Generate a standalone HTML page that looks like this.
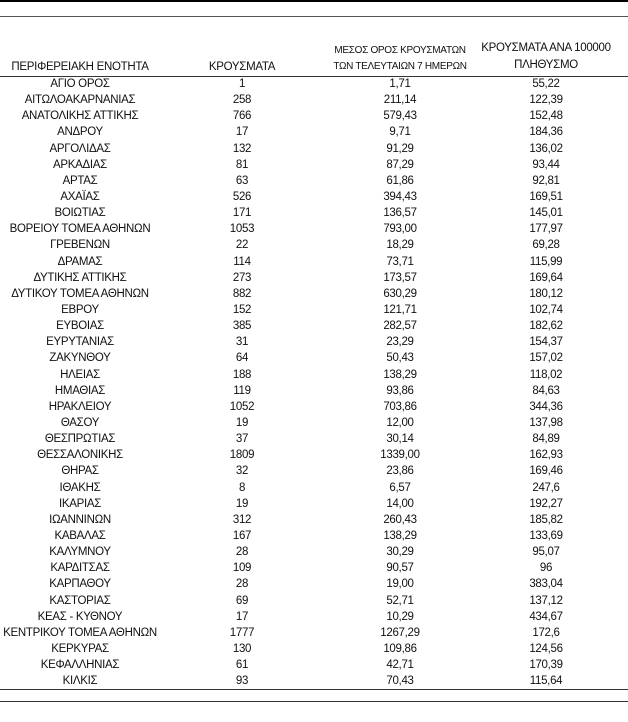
<!DOCTYPE html>
<html><head><meta charset="utf-8"><style>
body{margin:0;width:628px;height:722px;background:#fff;position:relative;overflow:hidden;font-family:"Liberation Sans","DejaVu Sans",sans-serif;font-size:11.5px;color:#111;}
.l{position:absolute;left:0;width:628px;}
.r{position:absolute;left:0;width:628px;height:16px;line-height:16px;}
.r span,.h{position:absolute;text-align:center;white-space:nowrap;letter-spacing:-0.3px;}
.c1{left:0;width:160px}.c2{left:192px;width:100px}.c3{left:320px;width:160px}.c4{left:466px;width:160px}
</style></head><body>
<div class="l" style="top:0;height:2px;background:#000"></div>
<div class="l" style="top:16px;height:1px;background:#555"></div>
<div class="h c1" style="top:61px;font-size:11.5px">ΠΕΡΙΦΕΡΕΙΑΚΗ ΕΝΟΤΗΤΑ</div>
<div class="h c2" style="top:61px">ΚΡΟΥΣΜΑΤΑ</div>
<div class="h c3" style="top:45px;font-size:10px">ΜΕΣΟΣ ΟΡΟΣ ΚΡΟΥΣΜΑΤΩΝ</div>
<div class="h c3" style="top:61px;font-size:10px">ΤΩΝ ΤΕΛΕΥΤΑΙΩΝ 7 ΗΜΕΡΩΝ</div>
<div class="h c4" style="top:42px">ΚΡΟΥΣΜΑΤΑ ΑΝΑ 100000</div>
<div class="h c4" style="top:59px">ΠΛΗΘΥΣΜΟ</div>
<div class="l" style="top:76px;height:1px;background:#333"></div>
<div id="rows"></div>
<div class="l" style="top:689px;height:1px;background:#333"></div>
<div class="l" style="top:701px;height:1px;background:#333"></div>
<script>
var d=[["ΑΓΙΟ ΟΡΟΣ","1","1,71","55,22"],["ΑΙΤΩΛΟΑΚΑΡΝΑΝΙΑΣ","258","211,14","122,39"],["ΑΝΑΤΟΛΙΚΗΣ ΑΤΤΙΚΗΣ","766","579,43","152,48"],["ΑΝΔΡΟΥ","17","9,71","184,36"],["ΑΡΓΟΛΙΔΑΣ","132","91,29","136,02"],["ΑΡΚΑΔΙΑΣ","81","87,29","93,44"],["ΑΡΤΑΣ","63","61,86","92,81"],["ΑΧΑΪΑΣ","526","394,43","169,51"],["ΒΟΙΩΤΙΑΣ","171","136,57","145,01"],["ΒΟΡΕΙΟΥ ΤΟΜΕΑ ΑΘΗΝΩΝ","1053","793,00","177,97"],["ΓΡΕΒΕΝΩΝ","22","18,29","69,28"],["ΔΡΑΜΑΣ","114","73,71","115,99"],["ΔΥΤΙΚΗΣ ΑΤΤΙΚΗΣ","273","173,57","169,64"],["ΔΥΤΙΚΟΥ ΤΟΜΕΑ ΑΘΗΝΩΝ","882","630,29","180,12"],["ΕΒΡΟΥ","152","121,71","102,74"],["ΕΥΒΟΙΑΣ","385","282,57","182,62"],["ΕΥΡΥΤΑΝΙΑΣ","31","23,29","154,37"],["ΖΑΚΥΝΘΟΥ","64","50,43","157,02"],["ΗΛΕΙΑΣ","188","138,29","118,02"],["ΗΜΑΘΙΑΣ","119","93,86","84,63"],["ΗΡΑΚΛΕΙΟΥ","1052","703,86","344,36"],["ΘΑΣΟΥ","19","12,00","137,98"],["ΘΕΣΠΡΩΤΙΑΣ","37","30,14","84,89"],["ΘΕΣΣΑΛΟΝΙΚΗΣ","1809","1339,00","162,93"],["ΘΗΡΑΣ","32","23,86","169,46"],["ΙΘΑΚΗΣ","8","6,57","247,6"],["ΙΚΑΡΙΑΣ","19","14,00","192,27"],["ΙΩΑΝΝΙΝΩΝ","312","260,43","185,82"],["ΚΑΒΑΛΑΣ","167","138,29","133,69"],["ΚΑΛΥΜΝΟΥ","28","30,29","95,07"],["ΚΑΡΔΙΤΣΑΣ","109","90,57","96"],["ΚΑΡΠΑΘΟΥ","28","19,00","383,04"],["ΚΑΣΤΟΡΙΑΣ","69","52,71","137,12"],["ΚΕΑΣ - ΚΥΘΝΟΥ","17","10,29","434,67"],["ΚΕΝΤΡΙΚΟΥ ΤΟΜΕΑ ΑΘΗΝΩΝ","1777","1267,29","172,6"],["ΚΕΡΚΥΡΑΣ","130","109,86","124,56"],["ΚΕΦΑΛΛΗΝΙΑΣ","61","42,71","170,39"],["ΚΙΛΚΙΣ","93","70,43","115,64"]];
var h="";d.forEach(function(r,i){var t=76+i*16.14;h+='<div class="r" style="top:'+t.toFixed(1)+'px"><span class="c1">'+r[0]+'</span><span class="c2">'+r[1]+'</span><span class="c3">'+r[2]+'</span><span class="c4">'+r[3]+'</span></div>';});
document.getElementById("rows").innerHTML=h;
</script>
</body></html>
